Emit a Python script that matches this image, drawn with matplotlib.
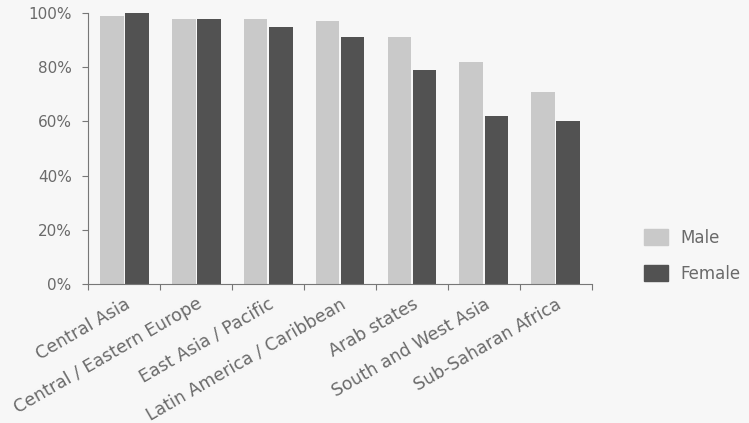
import numpy as np
import matplotlib
matplotlib.use("Agg")
import matplotlib.pyplot as plt
from matplotlib.patches import Patch

# Values (% enrolment)
regions = ["Central Asia", "Central / Eastern Europe", "East Asia / Pacific",
           "Latin America / Caribbean", "Arab states", "South and West Asia",
           "Sub-Saharan Africa"]
male = [99, 98, 98, 97, 91, 82, 71]
female = [100, 98, 95, 91, 79, 62, 60]
yticks = [0, 20, 40, 60, 80, 100]

plt.rcParams['font.family'] = ['DejaVu Sans']

male_color = '#c9c9c9'
female_color = '#525252'
text_color = '#6a6a6a'

fig = plt.figure(figsize=(7.49, 4.23), dpi=100)
fig.patch.set_facecolor('#f7f7f7')
ax = fig.add_axes([0.118, 0.329, 0.672, 0.64])
ax.set_facecolor('#f7f7f7')

x = np.arange(len(regions))
w = 0.33
ax.bar(x - w / 2 - 0.01, male, width=w, color=male_color, label='Male')
ax.bar(x + w / 2 + 0.01, female, width=w, color=female_color, label='Female')

ax.set_xlim(-0.5, len(regions) - 0.5)
ax.set_ylim(0, 100)
ax.set_yticks(yticks)
ax.set_yticklabels([f"{v}%" for v in yticks], fontsize=11, color=text_color)

# ticks at category boundaries, labels at centers
ax.set_xticks(np.arange(len(regions) + 1) - 0.5)
ax.set_xticklabels([])
ax.set_xticks(x, minor=True)
ax.set_xticklabels(regions, minor=True, rotation=30, ha='right',
                   rotation_mode='anchor', fontsize=12.5, color=text_color)
ax.tick_params(axis='x', which='minor', length=0, pad=8)
ax.tick_params(axis='x', which='major', length=4, color='#777777')
ax.tick_params(axis='y', length=4, color='#777777', pad=8)

for side in ['top', 'right']:
    ax.spines[side].set_visible(False)
for side in ['left', 'bottom']:
    ax.spines[side].set_color('#777777')

handles = [Patch(color=male_color, label='Male'),
           Patch(color=female_color, label='Female')]
fig.legend(handles=handles, loc='center left', bbox_to_anchor=(0.840, 0.395),
           frameon=False, fontsize=12, labelcolor=text_color,
           handlelength=1.45, handleheight=1.1, handletextpad=0.7,
           labelspacing=1.05)

fig.savefig("out.png", dpi=100, facecolor=fig.get_facecolor())
